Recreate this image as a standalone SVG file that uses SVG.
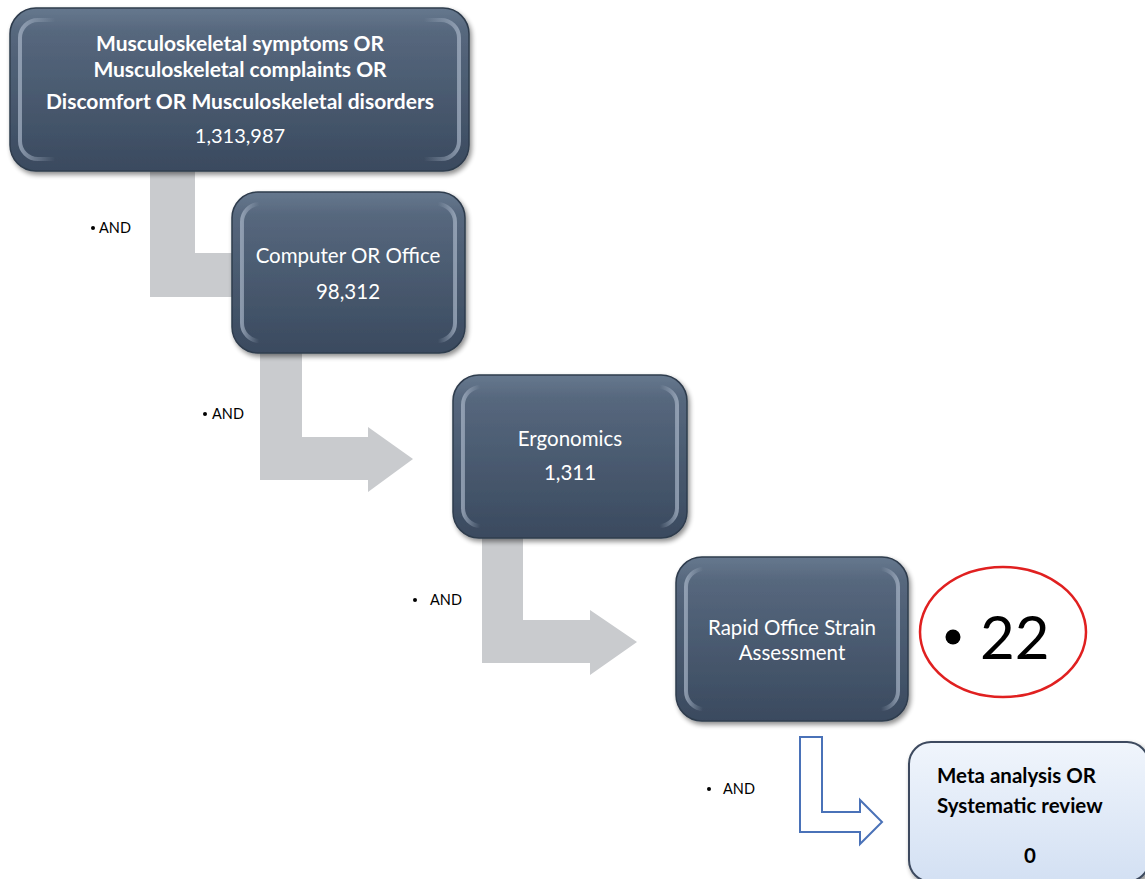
<svg xmlns="http://www.w3.org/2000/svg" width="1145" height="879" viewBox="0 0 1145 879">
<defs>
<linearGradient id="gDark" x1="0" y1="0" x2="0" y2="1">
<stop offset="0" stop-color="#66788e"/>
<stop offset="0.15" stop-color="#56677d"/>
<stop offset="1" stop-color="#3a4a5f"/>
</linearGradient>
<linearGradient id="gLight" x1="0" y1="0" x2="0" y2="1">
<stop offset="0" stop-color="#f0f5fc"/>
<stop offset="1" stop-color="#d3e0f3"/>
</linearGradient>
<linearGradient id="gHl" x1="0" y1="0" x2="1" y2="0">
<stop offset="0" stop-color="#a9b6c8" stop-opacity="0.7"/>
<stop offset="0.08" stop-color="#a9b6c8" stop-opacity="0"/>
<stop offset="0.92" stop-color="#a9b6c8" stop-opacity="0"/>
<stop offset="1" stop-color="#a9b6c8" stop-opacity="0.7"/>
</linearGradient>
<filter id="sh" x="-10%" y="-10%" width="125%" height="130%">
<feGaussianBlur in="SourceAlpha" stdDeviation="2.5"/>
<feOffset dx="2" dy="3"/>
<feComponentTransfer><feFuncA type="linear" slope="0.45"/></feComponentTransfer>
<feMerge><feMergeNode/><feMergeNode in="SourceGraphic"/></feMerge>
</filter>
<style>
.box{fill:url(#gDark);stroke:#2f3c4d;stroke-width:1.5;filter:url(#sh)}
.hl{fill:none;stroke:url(#gHl);stroke-width:4}
.wt{font-family:Lato,"Open Sans","Liberation Sans",sans-serif;fill:#ffffff;text-anchor:middle}
.b{font-weight:bold}
.and{font-family:Lato,"Liberation Sans",sans-serif;font-size:14.5px;fill:#000}
.arr{fill:#c9cbce}
.bk{font-family:Lato,"Liberation Sans",sans-serif;font-weight:bold;font-size:20.5px;fill:#000}
</style>
</defs>

<g id="connectors">
<path class="arr" d="M150,171 H195 V253 H240 V297 H150 Z"/>
<path class="arr" d="M260,353 H302 V437 H368 V427 L413,459 L368,492 V480 H260 Z"/>
<path class="arr" d="M482,538 H523 V620 H590 V610 L637,642 L590,675 V663 H482 Z"/>
<path d="M800,737 H822 V812 H860 V800 L882,822 L860,844 V832 H800 Z" fill="#ffffff" stroke="#4a72b8" stroke-width="2"/>
</g>

<g id="node1">
<rect class="box" x="10" y="8" width="459" height="163" rx="26"/>
<rect class="hl" x="20" y="20" width="439" height="139" rx="18"/>
<text class="wt b" x="240" y="51" font-size="21">Musculoskeletal symptoms OR</text>
<text class="wt b" x="240" y="77" font-size="21">Musculoskeletal complaints OR</text>
<text class="wt b" x="240" y="109" font-size="21">Discomfort OR Musculoskeletal disorders</text>
<text class="wt" x="240" y="143" font-size="20">1,313,987</text>
</g>

<g id="node2">
<rect class="box" x="232" y="192" width="233" height="161" rx="26"/>
<rect class="hl" x="242" y="204" width="213" height="137" rx="18"/>
<text class="wt" x="348" y="263" font-size="20.5">Computer OR Office</text>
<text class="wt" x="348" y="299" font-size="20.5">98,312</text>
</g>

<g id="node3">
<rect class="box" x="453" y="375" width="234" height="163" rx="26"/>
<rect class="hl" x="463" y="387" width="214" height="139" rx="18"/>
<text class="wt" x="570" y="446" font-size="20.5">Ergonomics</text>
<text class="wt" x="570" y="480" font-size="20.5">1,311</text>
</g>

<g id="node4">
<rect class="box" x="676" y="557" width="232" height="164" rx="26"/>
<rect class="hl" x="686" y="569" width="212" height="140" rx="18"/>
<text class="wt" x="792" y="635" font-size="20.5">Rapid Office Strain</text>
<text class="wt" x="792" y="660" font-size="20.5">Assessment</text>
</g>

<g id="node5">
<rect x="909" y="742" width="240" height="140" rx="22" fill="url(#gLight)" stroke="#3c4a5e" stroke-width="2" filter="url(#sh)"/>
<text class="bk" x="937" y="783">Meta analysis OR</text>
<text class="bk" x="937" y="813">Systematic review</text>
<text class="bk" x="1030" y="863" text-anchor="middle">0</text>
</g>

<g id="result">
<ellipse cx="1003" cy="632" rx="83" ry="65" fill="none" stroke="#e02020" stroke-width="2.5"/>
<circle cx="953" cy="637" r="7.5" fill="#000"/>
<text x="980" y="659" font-family="Lato,'Liberation Sans',sans-serif" font-size="60" fill="#000">22</text>
</g>

<g id="labels">
<circle cx="93" cy="228" r="2" fill="#000"/>
<text class="and" x="99" y="233">AND</text>
<circle cx="205" cy="414" r="2" fill="#000"/>
<text class="and" x="212" y="419">AND</text>
<circle cx="415" cy="600" r="2" fill="#000"/>
<text class="and" x="430" y="605">AND</text>
<circle cx="709" cy="789" r="2" fill="#000"/>
<text class="and" x="723" y="794">AND</text>
</g>
</svg>
